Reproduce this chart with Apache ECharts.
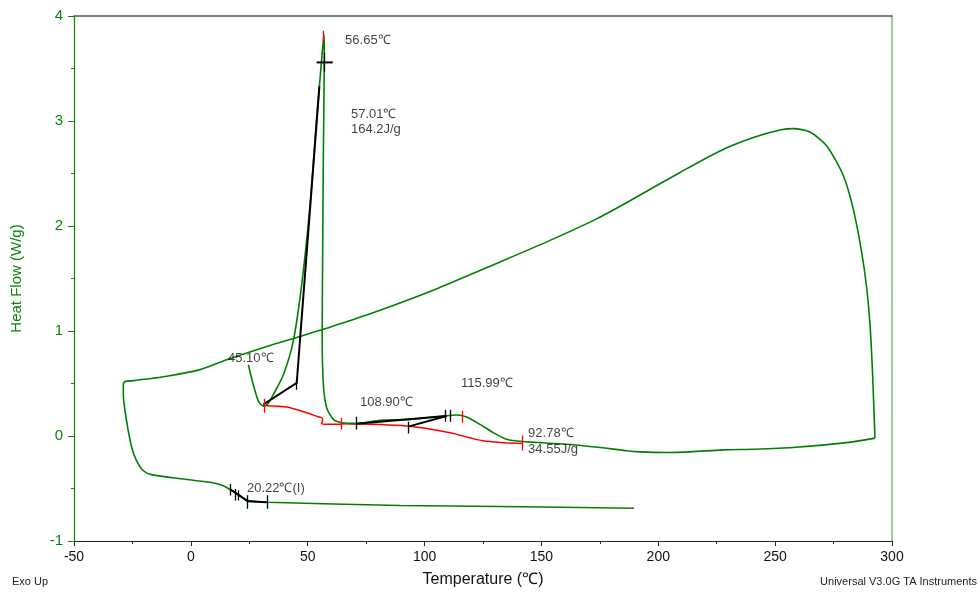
<!DOCTYPE html>
<html><head><meta charset="utf-8">
<script src="https://cdn.jsdelivr.net/npm/echarts@6/dist/echarts.min.js"></script>
<style>html,body{margin:0;padding:0;background:#fff}#c{width:980px;height:593px}</style>
</head><body><div id="c"></div>
<script>
// Heat flow trace (Temperature °C, Heat Flow W/g), one continuous path in three parts
const heatingScan = [[24.6,0.679],[26.7,0.490],[28.9,0.332],[31.0,0.285],[33.0,0.307],[35.3,0.395],[39.6,0.584],[43.8,0.901],[47.4,1.437],[51.0,2.194],[53.8,3.015],[55.6,3.489],[56.7,3.773],[57.0,3.820],[57.1,3.647],[56.7,2.703],[56.4,1.756],[56.2,0.963],[56.7,0.490],[58.1,0.269],[61.0,0.158],[64.5,0.127],[71.0,0.120],[80.9,0.149],[93.8,0.158],[108.0,0.190],[113.8,0.200],[118.0,0.181],[123.7,0.111],[129.4,0.032],[135.1,-0.031],[141.7,-0.053],[160.8,-0.079],[175.1,-0.110],[186.5,-0.141],[192.2,-0.151],[203.6,-0.157],[213.6,-0.151],[227.8,-0.132],[240.5,-0.126],[257.6,-0.110],[280.6,-0.063],[292.7,-0.020]];
const returnScan = [[292.7,-0.020],[291.7,0.584],[290.6,1.058],[289.2,1.405],[287.0,1.753],[283.4,2.163],[279.2,2.478],[272.1,2.762],[264.9,2.895],[257.8,2.927],[252.1,2.914],[240.7,2.842],[226.4,2.715],[209.3,2.510],[187.9,2.241],[173.6,2.068],[153.7,1.863],[132.3,1.658],[103.7,1.389],[75.2,1.152],[58.1,1.027],[46.7,0.948],[32.5,0.853],[15.3,0.726],[3.9,0.632],[-10.3,0.569],[-24.6,0.527],[-28.2,0.520]];
const coolingScan = [[-28.2,0.520],[-28.9,0.496],[-28.9,0.395],[-27.5,0.143],[-25.3,-0.110],[-23.2,-0.236],[-20.3,-0.331],[-16.8,-0.368],[-3.2,-0.410],[8.2,-0.441],[13.9,-0.473],[17.5,-0.520],[21.0,-0.567],[24.6,-0.615],[32.5,-0.631],[89.5,-0.662],[132.3,-0.671],[189.6,-0.688]];

// Integration baselines (red)
const meltBaseline = [[31.0,0.291],[41.0,0.276],[49.6,0.222],[54.4,0.184],[56.0,0.174],[56.4,0.150],[55.9,0.118],[58.1,0.111],[64.5,0.111]];
const bumpBaseline = [[64.5,0.117],[92.4,0.096],[110.9,0.032],[125.0,-0.046],[141.7,-0.072]];

// Onset construction lines (black)
const meltOnset = [[31.0,0.300],[45.3,0.506],[55.0,3.330]];
const peakCross = [[53.8,3.558],[60.7,3.558]];
const bumpUpper = [[70.7,0.117],[109.4,0.190]];
const bumpLower = [[93.0,0.089],[109.4,0.190]];
const glassLine = [[16.7,-0.505],[24.3,-0.621],[32.5,-0.631]];

// Vertical tick markers: temperature, top, bottom
const blackTickT = [57.1, 45.3, 70.7, 93.0, 109.0, 110.9, 16.7, 18.9, 20.3, 24.3, 32.5];
const blackTickTop = [3.65, 0.53, 0.184, 0.136, 0.25, 0.25, -0.457, -0.505, -0.517, -0.564, -0.564];
const blackTickBot = [3.47, 0.44, 0.061, 0.023, 0.136, 0.136, -0.567, -0.615, -0.615, -0.694, -0.694];
const redTickT = [56.7, 31.3, 64.5, 116.1, 141.8];
const redTickTop = [3.86, 0.354, 0.174, 0.241, 0.004];
const redTickBot = [3.74, 0.222, 0.061, 0.127, -0.138];

// Annotations
const annText = ['56.65℃','57.01℃','164.2J/g','45.10℃','108.90℃','115.99℃','92.78℃','34.55J/g','20.22℃(I)'];
const annX = [66.0, 68.5, 68.5, 15.9, 72.4, 115.6, 144.3, 144.3, 24.0];
const annY = [3.763, 3.062, 2.920, 0.742, 0.316, 0.496, 0.023, -0.129, -0.498];

const xTicks = {min: -50, max: 300, interval: 50};
const yTicks = {min: -1, max: 4, interval: 1};

const FONT = '"Liberation Sans", Arial, sans-serif';
const GREEN = '#0a850a';

function ticks(T, a, b){ return T.map((t,i)=>({coords:[[t,a[i]],[t,b[i]]]})); }

const chart = echarts.init(document.getElementById('c'), null, {renderer:'canvas'});
chart.setOption({
  animation: false,
  backgroundColor: '#fff',
  grid: {left: 74, right: 88, top: 16, bottom: 49},
  xAxis: [{
    type: 'value', min: xTicks.min, max: xTicks.max, interval: xTicks.interval,
    name: 'Temperature (℃)', nameLocation: 'middle', nameGap: 31,
    nameTextStyle: {color: '#111', fontSize: 16, fontFamily: FONT},
    axisLine: {onZero: false, lineStyle: {color: '#222', width: 1}},
    axisTick: {show: true, length: 5, lineStyle: {color: '#222'}},
    minorTick: {show: true, splitNumber: 2, length: 3, lineStyle: {color: '#222'}},
    axisLabel: {color: '#111', fontSize: 14, fontFamily: FONT, margin: 9},
    splitLine: {show: false}
  },{
    type: 'value', position: 'top', min: xTicks.min, max: xTicks.max,
    axisLine: {show: true, onZero: false, lineStyle: {color: '#555', width: 1.5}},
    axisTick: {show: false}, axisLabel: {show: false}, splitLine: {show: false}
  }],
  yAxis: [{
    type: 'value', min: yTicks.min, max: yTicks.max, interval: yTicks.interval,
    name: 'Heat Flow (W/g)', nameLocation: 'middle', nameGap: 50,
    nameTextStyle: {color: GREEN, fontSize: 15, fontFamily: FONT},
    axisLine: {show: true, onZero: false, lineStyle: {color: GREEN, width: 1.2}},
    axisTick: {show: true, length: 6, lineStyle: {color: GREEN}},
    minorTick: {show: true, splitNumber: 2, length: 3, lineStyle: {color: GREEN}},
    axisLabel: {color: GREEN, fontSize: 15, fontFamily: FONT, margin: 11},
    splitLine: {show: false}
  },{
    type: 'value', position: 'right', min: yTicks.min, max: yTicks.max,
    axisLine: {show: true, onZero: false, lineStyle: {color: '#7cc07c', width: 1.5}},
    axisTick: {show: false}, axisLabel: {show: false}, splitLine: {show: false}
  }],
  series: [
    {type:'line', data: heatingScan, showSymbol:false, smooth:0.25, z:3, lineStyle:{color:'#008000', width:1.6}},
    {type:'line', data: returnScan, showSymbol:false, smooth:0.25, z:3, lineStyle:{color:'#008000', width:1.6}},
    {type:'line', data: coolingScan, showSymbol:false, smooth:0.25, z:3, lineStyle:{color:'#008000', width:1.6}},
    {type:'line', data: meltBaseline, showSymbol:false, smooth:0.2, z:2, lineStyle:{color:'#ff0000', width:1.5}},
    {type:'line', data: bumpBaseline, showSymbol:false, smooth:0.3, z:2, lineStyle:{color:'#ff0000', width:1.5}},
    {type:'lines', coordinateSystem:'cartesian2d', polyline:true, z:5,
      lineStyle:{color:'#000', width:2, opacity:1},
      data: [meltOnset, peakCross, bumpUpper, bumpLower, glassLine].map(c=>({coords:c}))},
    {type:'lines', coordinateSystem:'cartesian2d', z:5,
      lineStyle:{color:'#000', width:1.3, opacity:1},
      data: ticks(blackTickT, blackTickTop, blackTickBot)},
    {type:'lines', coordinateSystem:'cartesian2d', z:6,
      lineStyle:{color:'#ff0000', width:1.3, opacity:1},
      data: ticks(redTickT, redTickTop, redTickBot)},
    {type:'scatter', symbolSize:0, z:7, silent:true,
      data: annText.map((t,i)=>({name:t, value:[annX[i], annY[i]]})),
      label:{show:true, position:'right', distance:0, formatter: p=>p.name,
        color:'#111', fontSize:13, fontFamily: FONT}}
  ],
  graphic: [
    {type:'text', left: 12, top: 576, style:{text:'Exo Up', fill:'#222', fontSize:11, fontFamily: FONT}},
    {type:'text', right: 3, top: 576, style:{text:'Universal V3.0G TA Instruments', fill:'#222', fontSize:11, fontFamily: FONT}}
  ]
});
</script></body></html>
